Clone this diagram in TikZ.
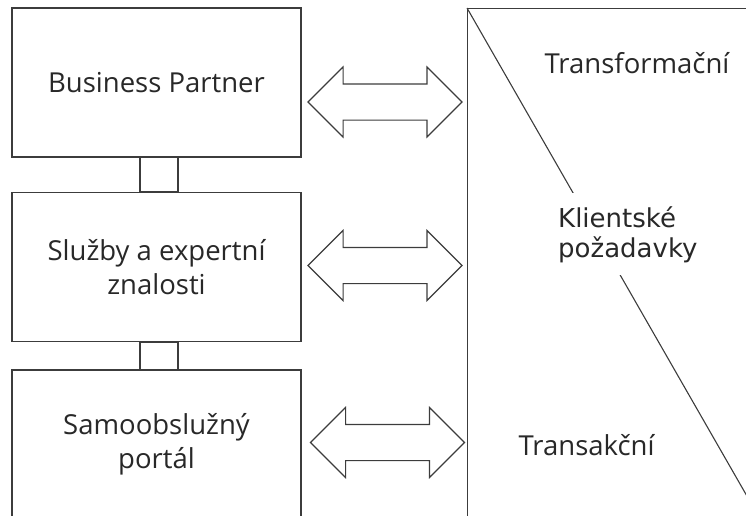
\documentclass[tikz,border=0pt]{standalone}
\usepackage{fontspec}
\setmainfont{Open Sans}
\newfontfamily\dejavu{DejaVu Sans}
\usepackage{tikz}
\usetikzlibrary{positioning,shapes.arrows}
\definecolor{linegray}{RGB}{60,60,60}
\definecolor{textgray}{RGB}{40,40,40}

\begin{document}
\begin{tikzpicture}[
  x=1pt, y=-1pt,
  every node/.style={font=\fontsize{27.5}{34}\selectfont, text=textgray},
  thinline/.style={draw=linegray, line width=1.1pt},
  block/.style={rectangle, thinline, minimum width=289pt, minimum height=149pt, align=center, inner sep=0pt},
  panel/.style={rectangle, thinline, minimum width=310pt, minimum height=530pt, anchor=north west},
  twoway/.style={double arrow, thinline, double arrow tip angle=90, double arrow head extend=17pt, minimum height=154pt, minimum width=69pt, inner xsep=0pt, inner ysep=17.5pt}
]
  \useasboundingbox (0,0) rectangle (746,515);
  \clip (0,0) rectangle (746,515);

  \node[block] (bp) at (156.5,82.5)  {Business Partner};
  \node[block] (sl) at (156.5,267)   {Služby a expertní\\znalosti};
  \node[block] (sp) at (156.5,444.5) {Samoobslužný\\portál};

  \foreach \a/\b in {bp/sl, sl/sp} \draw[thinline] ([xshift=-16.5pt]\a.south) rectangle ([xshift=21.5pt]\b.north);

  \node[panel] (pnl) at (467,8) {};
  \draw[thinline] (pnl.north west) -- ++(300,523);

  \node[anchor=base] (tf) at (637,73)  {Transformační};
  \node[anchor=base] (ta) at (586.5,455) {Transakční};
  \node[anchor=base west, fill=white, inner xsep=4pt, inner ysep=13pt, align=left,
        font=\dejavu\fontsize{26}{30}\selectfont] (kp) at (554,257) {Klientské\\požadavky};

  \node[twoway] (a1) at (385,102)   {};
  \node[twoway] (a2) at (385,265.5) {};
  \node[twoway] (a3) at (387.5,442.5) {};
\end{tikzpicture}
\end{document}
